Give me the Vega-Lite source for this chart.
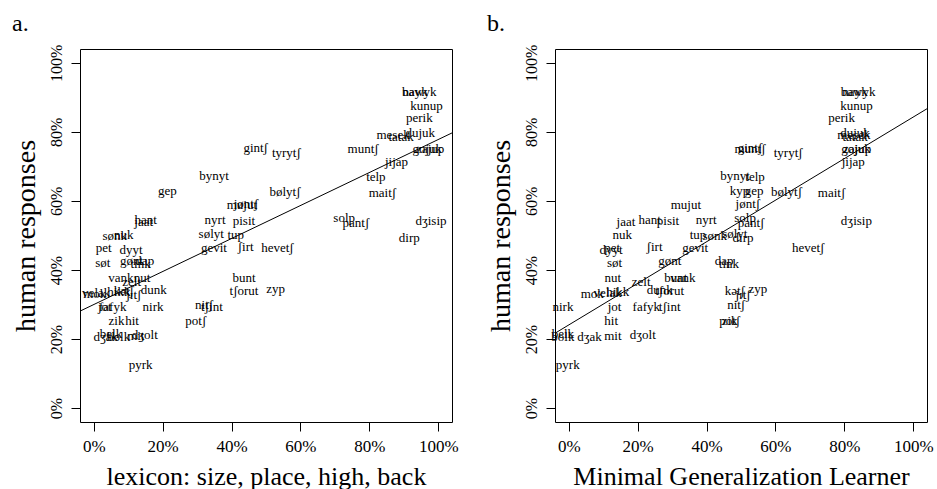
{
  "$schema": "https://vega.github.io/schema/vega-lite/v6.json",
  "background": "white",
  "padding": {"left": 11, "top": 11, "right": 2, "bottom": 0},
  "datasets": {
    "words": [
      {"word": "gep", "human": 0.629, "lex": 0.214, "mgl": 0.538},
      {"word": "jaat", "human": 0.539, "lex": 0.145, "mgl": 0.166},
      {"word": "hant", "human": 0.545, "lex": 0.151, "mgl": 0.235},
      {"word": "sønk", "human": 0.499, "lex": 0.061, "mgl": 0.424},
      {"word": "nuk", "human": 0.501, "lex": 0.087, "mgl": 0.155},
      {"word": "pet", "human": 0.464, "lex": 0.029, "mgl": 0.126},
      {"word": "dyyt", "human": 0.458, "lex": 0.108, "mgl": 0.123},
      {"word": "søt", "human": 0.42, "lex": 0.026, "mgl": 0.133},
      {"word": "gønt", "human": 0.426, "lex": 0.11, "mgl": 0.293},
      {"word": "dap", "human": 0.426, "lex": 0.148, "mgl": 0.451},
      {"word": "tink", "human": 0.417, "lex": 0.136, "mgl": 0.465},
      {"word": "vank", "human": 0.377, "lex": 0.079, "mgl": 0.331},
      {"word": "nut", "human": 0.377, "lex": 0.14, "mgl": 0.128},
      {"word": "zelt", "human": 0.365, "lex": 0.11, "mgl": 0.21},
      {"word": "bunt", "human": 0.377, "lex": 0.436, "mgl": 0.311},
      {"word": "dunk", "human": 0.342, "lex": 0.174, "mgl": 0.264},
      {"word": "tʃorut", "human": 0.339, "lex": 0.436, "mgl": 0.293},
      {"word": "zyp", "human": 0.345, "lex": 0.528, "mgl": 0.549},
      {"word": "kətʃ", "human": 0.339, "lex": 0.087, "mgl": 0.482},
      {"word": "jɪtʃ", "human": 0.328, "lex": 0.116, "mgl": 0.506},
      {"word": "mok", "human": 0.33, "lex": 0.003, "mgl": 0.068},
      {"word": "hikk", "human": 0.336, "lex": 0.073, "mgl": 0.142},
      {"word": "velak", "human": 0.333, "lex": 0.007, "mgl": 0.113},
      {"word": "jot", "human": 0.293, "lex": 0.032, "mgl": 0.133},
      {"word": "nirk", "human": 0.293, "lex": 0.172, "mgl": -0.017},
      {"word": "fafyk", "human": 0.293, "lex": 0.055, "mgl": 0.225},
      {"word": "tʃint", "human": 0.293, "lex": 0.343, "mgl": 0.293},
      {"word": "nitʃ", "human": 0.299, "lex": 0.32, "mgl": 0.486},
      {"word": "hit", "human": 0.252, "lex": 0.111, "mgl": 0.123},
      {"word": "zik", "human": 0.252, "lex": 0.066, "mgl": 0.467},
      {"word": "potʃ", "human": 0.252, "lex": 0.296, "mgl": 0.467},
      {"word": "belk", "human": 0.214, "lex": 0.05, "mgl": -0.017},
      {"word": "bolk", "human": 0.206, "lex": 0.072, "mgl": -0.017},
      {"word": "dʒak", "human": 0.206, "lex": 0.035, "mgl": 0.06},
      {"word": "mit", "human": 0.209, "lex": 0.122, "mgl": 0.128},
      {"word": "dʒolt", "human": 0.212, "lex": 0.148, "mgl": 0.215},
      {"word": "pyrk", "human": 0.125, "lex": 0.136, "mgl": -0.003},
      {"word": "mujut", "human": 0.588, "lex": 0.43, "mgl": 0.34},
      {"word": "jøntʃ", "human": 0.591, "lex": 0.442, "mgl": 0.52},
      {"word": "nyrt", "human": 0.545, "lex": 0.352, "mgl": 0.399},
      {"word": "pisit", "human": 0.543, "lex": 0.436, "mgl": 0.288},
      {"word": "sølyt", "human": 0.504, "lex": 0.341, "mgl": 0.482},
      {"word": "tup", "human": 0.501, "lex": 0.412, "mgl": 0.375},
      {"word": "gevit", "human": 0.464, "lex": 0.349, "mgl": 0.367},
      {"word": "ʃirt", "human": 0.467, "lex": 0.441, "mgl": 0.249},
      {"word": "hevetʃ", "human": 0.464, "lex": 0.533, "mgl": 0.695},
      {"word": "gintʃ", "human": 0.754, "lex": 0.47, "mgl": 0.526},
      {"word": "tyrytʃ", "human": 0.74, "lex": 0.559, "mgl": 0.637},
      {"word": "bynyt", "human": 0.672, "lex": 0.349, "mgl": 0.483},
      {"word": "bølytʃ", "human": 0.626, "lex": 0.555, "mgl": 0.632},
      {"word": "muntʃ", "human": 0.751, "lex": 0.782, "mgl": 0.526},
      {"word": "nayk", "human": 0.916, "lex": 0.933, "mgl": 0.831},
      {"word": "bawyk", "human": 0.916, "lex": 0.945, "mgl": 0.84},
      {"word": "kunup", "human": 0.874, "lex": 0.966, "mgl": 0.835},
      {"word": "perik", "human": 0.839, "lex": 0.945, "mgl": 0.792},
      {"word": "mesek", "human": 0.791, "lex": 0.869, "mgl": 0.828},
      {"word": "dujuk", "human": 0.797, "lex": 0.948, "mgl": 0.831},
      {"word": "tatak", "human": 0.784, "lex": 0.892, "mgl": 0.831},
      {"word": "gojuk", "human": 0.751, "lex": 0.968, "mgl": 0.834},
      {"word": "zajup", "human": 0.751, "lex": 0.977, "mgl": 0.837},
      {"word": "jijap", "human": 0.713, "lex": 0.879, "mgl": 0.826},
      {"word": "telp", "human": 0.67, "lex": 0.819, "mgl": 0.541},
      {"word": "maitʃ", "human": 0.623, "lex": 0.838, "mgl": 0.763},
      {"word": "solp", "human": 0.551, "lex": 0.727, "mgl": 0.512},
      {"word": "pantʃ", "human": 0.537, "lex": 0.761, "mgl": 0.529},
      {"word": "dʒisip", "human": 0.542, "lex": 0.979, "mgl": 0.835},
      {"word": "dirp", "human": 0.494, "lex": 0.916, "mgl": 0.506},
      {"word": "kyp", "human": 0.629, "lex": null, "mgl": 0.496}
    ],
    "fitA": [{"lex": -0.04, "human": 0.281}, {"lex": 1.04, "human": 0.797}],
    "fitB": [{"mgl": -0.04, "human": 0.217}, {"mgl": 1.04, "human": 0.867}]
  },
  "config": {
    "view": {"stroke": "black", "strokeWidth": 1},
    "font": "Liberation Serif",
    "axis": {
      "domain": false, "grid": false, "tickColor": "black", "tickSize": 9, "tickWidth": 1,
      "labelFont": "Liberation Serif", "labelFontSize": 16, "labelColor": "black",
      "labelOverlap": false, "labelFlush": false,
      "titleFont": "Liberation Serif", "titleFontWeight": "normal", "titleColor": "black"
    },
    "axisX": {"labelPadding": 7, "labelFontSize": 17, "titleFontSize": 26, "titlePadding": 9},
    "axisY": {"labelAngle": 270, "labelAlign": "center", "labelBaseline": "alphabetic", "labelPadding": 10, "titleFontSize": 28, "titlePadding": 8},
    "title": {"font": "Liberation Serif", "fontSize": 24, "fontWeight": "normal", "anchor": "start", "frame": "bounds", "color": "black", "offset": 8}
  },
  "spacing": 103,
  "bounds": "flush",
  "hconcat": [
    {
      "title": "a.",
      "width": 372,
      "height": 373,
      "layer": [
        {
          "data": {"name": "words"},
          "transform": [{"filter": "isValid(datum.lex)"}],
          "mark": {"type": "text", "font": "Liberation Serif", "fontSize": 13, "fill": "black", "align": "center", "baseline": "middle"},
          "encoding": {
            "x": {"field": "lex", "type": "quantitative", "scale": {"domain": [-0.04, 1.04], "nice": false, "zero": false}, "axis": {"title": "lexicon: size, place, high, back", "values": [0, 0.2, 0.4, 0.6, 0.8, 1], "format": ".0%"}},
            "y": {"field": "human", "type": "quantitative", "scale": {"domain": [-0.04, 1.04], "nice": false, "zero": false}, "axis": {"title": "human responses", "values": [0, 0.2, 0.4, 0.6, 0.8, 1], "format": ".0%"}},
            "text": {"field": "word"}
          }
        },
        {
          "data": {"name": "fitA"},
          "mark": {"type": "line", "color": "black", "strokeWidth": 1, "clip": true},
          "encoding": {
            "x": {"field": "lex", "type": "quantitative"},
            "y": {"field": "human", "type": "quantitative"}
          }
        }
      ]
    },
    {
      "title": "b.",
      "width": 372,
      "height": 373,
      "layer": [
        {
          "data": {"name": "words"},
          "mark": {"type": "text", "font": "Liberation Serif", "fontSize": 13, "fill": "black", "align": "center", "baseline": "middle"},
          "encoding": {
            "x": {"field": "mgl", "type": "quantitative", "scale": {"domain": [-0.04, 1.04], "nice": false, "zero": false}, "axis": {"title": "Minimal Generalization Learner", "values": [0, 0.2, 0.4, 0.6, 0.8, 1], "format": ".0%"}},
            "y": {"field": "human", "type": "quantitative", "scale": {"domain": [-0.04, 1.04], "nice": false, "zero": false}, "axis": {"title": "human responses", "values": [0, 0.2, 0.4, 0.6, 0.8, 1], "format": ".0%"}},
            "text": {"field": "word"}
          }
        },
        {
          "data": {"name": "fitB"},
          "mark": {"type": "line", "color": "black", "strokeWidth": 1, "clip": true},
          "encoding": {
            "x": {"field": "mgl", "type": "quantitative"},
            "y": {"field": "human", "type": "quantitative"}
          }
        }
      ]
    }
  ]
}
